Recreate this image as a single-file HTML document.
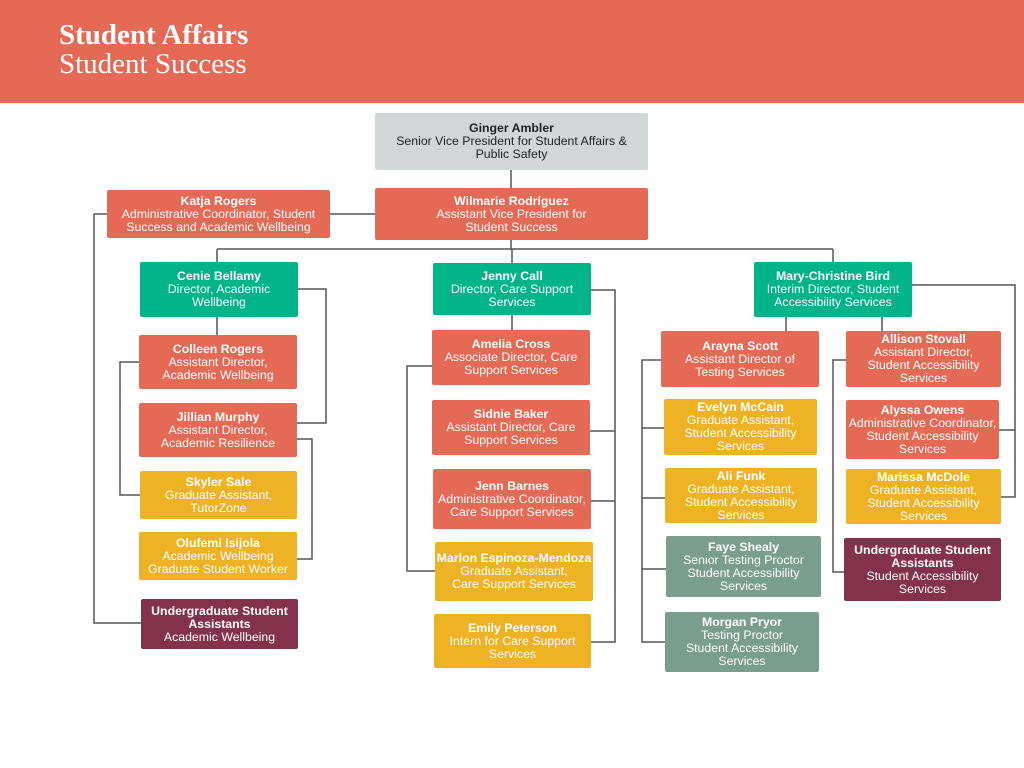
<!DOCTYPE html>
<html><head><meta charset="utf-8"><style>
body{margin:0;width:1024px;height:768px;background:#fff;position:relative;overflow:hidden;font-family:"Liberation Sans",sans-serif}
.h{position:absolute;left:0;top:0;width:1024px;height:103px;background:#E46A55}
.t{position:absolute;left:59px;color:#fff;font-family:"Liberation Serif",serif;font-size:29px;line-height:29px}
.n{position:absolute;display:flex;flex-direction:column;justify-content:center;align-items:center;text-align:center;color:#fff;font-size:12.3px;line-height:13px;border-radius:2px;box-sizing:border-box;padding:0;white-space:nowrap}
.n b{font-weight:bold}
.o{background:#E46A55}.g{background:#00B489}.y{background:#EEB325}.s{background:#7A9E8D}.m{background:#84314C}
.gr{background:#D3D6D7;color:#222}
svg{position:absolute;left:0;top:0}
</style></head><body>
<div class="h"></div>
<div class="t" style="top:21px;font-weight:bold">Student Affairs</div>
<div class="t" style="top:50px">Student Success</div>
<svg width="1024" height="768"><g stroke="#555" stroke-width="1.5" fill="none">
<path d="M511 170V188M330 214H375M511 240V249M217 249H833M217 249V262M512 249V263M833 249V262"/>
<path d="M107 214H94V623H141M298 289H326V423H297M217 317V335M139 362H120V495H140M297 439H312V559H297"/>
<path d="M512 315V330M591 290H615V642H591M590 431H615M591 501H615M432 366H407V571H435"/>
<path d="M786 317V331M882 317V331M661 360H642V642H665M664 428H642M665 498H642M666 569H642M912 285H1015V497H1001M999 430H1015M846 360H833V572H844"/>
</g></svg>
<div class="n gr" style="left:375px;top:113px;width:273px;height:57px"><b>Ginger Ambler</b>Senior Vice President for Student Affairs &amp;<br>Public Safety</div>
<div class="n o" style="left:375px;top:188px;width:273px;height:52px"><b>Wilmarie Rodríguez</b>Assistant Vice President for<br>Student Success</div>
<div class="n o" style="left:107px;top:190px;width:223px;height:48px"><b>Katja Rogers</b>Administrative Coordinator, Student<br>Success and Academic Wellbeing</div>
<div class="n g" style="left:140px;top:262px;width:158px;height:55px"><b>Cenie Bellamy</b>Director, Academic<br>Wellbeing</div>
<div class="n o" style="left:139px;top:335px;width:158px;height:54px"><b>Colleen Rogers</b>Assistant Director,<br>Academic Wellbeing</div>
<div class="n o" style="left:139px;top:403px;width:158px;height:54px"><b>Jillian Murphy</b>Assistant Director,<br>Academic Resilience</div>
<div class="n y" style="left:140px;top:471px;width:157px;height:48px"><b>Skyler Sale</b>Graduate Assistant,<br>TutorZone</div>
<div class="n y" style="left:139px;top:532px;width:158px;height:48px"><b>Olufemi Isijola</b>Academic Wellbeing<br>Graduate Student Worker</div>
<div class="n m" style="left:141px;top:599px;width:157px;height:50px"><b>Undergraduate Student<br>Assistants</b>Academic Wellbeing</div>
<div class="n g" style="left:433px;top:263px;width:158px;height:52px"><b>Jenny Call</b>Director, Care Support<br>Services</div>
<div class="n o" style="left:432px;top:330px;width:158px;height:55px"><b>Amelia Cross</b>Associate Director, Care<br>Support Services</div>
<div class="n o" style="left:432px;top:400px;width:158px;height:55px"><b>Sidnie Baker</b>Assistant Director, Care<br>Support Services</div>
<div class="n o" style="left:433px;top:469px;width:158px;height:60px"><b>Jenn Barnes</b>Administrative Coordinator,<br>Care Support Services</div>
<div class="n y" style="left:435px;top:542px;width:158px;height:59px"><b>Marlon Espinoza-Mendoza</b>Graduate Assistant,<br>Care Support Services</div>
<div class="n y" style="left:434px;top:614px;width:157px;height:54px"><b>Emily Peterson</b>Intern for Care Support<br>Services</div>
<div class="n g" style="left:754px;top:262px;width:158px;height:55px"><b>Mary-Christine Bird</b>Interim Director, Student<br>Accessibility Services</div>
<div class="n o" style="left:661px;top:331px;width:158px;height:56px"><b>Arayna Scott</b>Assistant Director of<br>Testing Services</div>
<div class="n y" style="left:664px;top:399px;width:153px;height:56px"><b>Evelyn McCain</b>Graduate Assistant,<br>Student Accessibility<br>Services</div>
<div class="n y" style="left:665px;top:468px;width:152px;height:55px"><b>Ali Funk</b>Graduate Assistant,<br>Student Accessibility<br>Services</div>
<div class="n s" style="left:666px;top:536px;width:155px;height:61px"><b>Faye Shealy</b>Senior Testing Proctor<br>Student Accessibility<br>Services</div>
<div class="n s" style="left:665px;top:612px;width:154px;height:60px"><b>Morgan Pryor</b>Testing Proctor<br>Student Accessibility<br>Services</div>
<div class="n o" style="left:846px;top:331px;width:155px;height:56px"><b>Allison Stovall</b>Assistant Director,<br>Student Accessibility<br>Services</div>
<div class="n o" style="left:846px;top:400px;width:153px;height:59px"><b>Alyssa Owens</b>Administrative Coordinator,<br>Student Accessibility<br>Services</div>
<div class="n y" style="left:846px;top:469px;width:155px;height:55px"><b>Marissa McDole</b>Graduate Assistant,<br>Student Accessibility<br>Services</div>
<div class="n m" style="left:844px;top:538px;width:157px;height:63px"><b>Undergraduate Student<br>Assistants</b>Student Accessibility<br>Services</div>
</body></html>
